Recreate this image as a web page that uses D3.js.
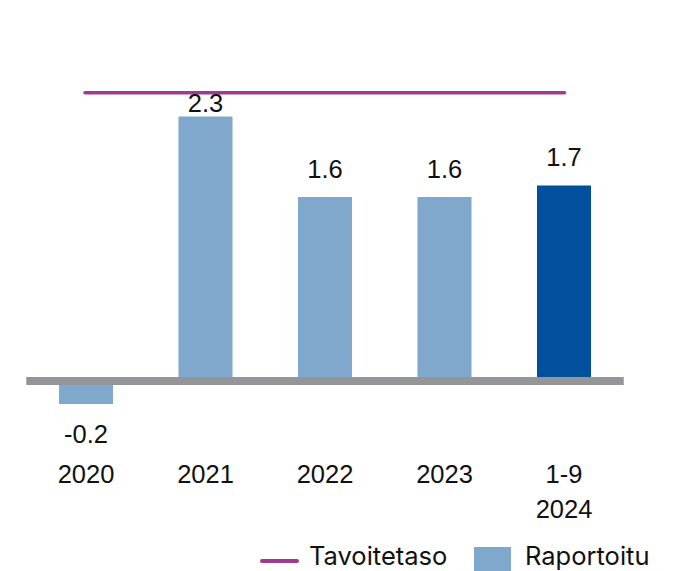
<!DOCTYPE html>
<html><head><meta charset="utf-8">
<script src="https://cdn.jsdelivr.net/npm/d3@7"></script>
<style>html,body{margin:0;padding:0;background:#fff;overflow:hidden}</style>
</head><body>
<svg id="chart" width="674" height="571"></svg>
<script>
const categories = ["2020", "2021", "2022", "2023", "1-9\n2024"];
const values = [-0.2, 2.3, 1.6, 1.6, 1.7];
const highlighted = [false, false, false, false, true];
const targetValue = 2.5;
const legendLabels = ["Tavoitetaso", "Raportoitu"];

const colLight = "#80a8cc", colDark = "#00509d", colTarget = "#9e3d8f", colAxis = "#949599";
const svg = d3.select("#chart");

const x = d3.scaleBand().domain(categories).range([26.25, 623.75]).paddingInner(0.548).paddingOuter(0.274);
const y = d3.scaleLinear().domain([0, targetValue]).range([381, 93.5]);
const bw = x.bandwidth();

// bars
svg.append("g").selectAll("rect").data(values).join("rect")
  .attr("x", (d, i) => x(categories[i]))
  .attr("y", d => y(Math.max(d, 0)))
  .attr("width", bw)
  .attr("height", d => Math.abs(y(d) - y(0)))
  .attr("fill", (d, i) => highlighted[i] ? colDark : colLight);

// zero axis line
svg.append("line").attr("x1", x.range()[0]).attr("x2", x.range()[1])
  .attr("y1", y(0)).attr("y2", y(0)).attr("stroke", colAxis).attr("stroke-width", 8);

// target line
svg.append("line")
  .attr("x1", x(categories[0]) + bw / 2 - 1).attr("x2", x(categories[categories.length - 1]) + bw / 2 + 0.5)
  .attr("y1", y(targetValue) - 0.8).attr("y2", y(targetValue) - 0.8)
  .attr("stroke", colTarget).attr("stroke-width", 3.5).attr("stroke-linecap", "round");

const labelFont = "'Liberation Sans', Arial, sans-serif";
// value labels
svg.append("g").selectAll("text").data(values).join("text")
  .attr("x", (d, i) => x(categories[i]) + bw / 2)
  .attr("y", d => d >= 0 ? Math.max(y(d) - 19.5, y(targetValue) + 18) : y(d) + 39)
  .attr("text-anchor", "middle").attr("font-family", labelFont).attr("font-size", 25.5)
  .attr("fill", "#111")
  .text(d => d.toFixed(1));

// category labels
const cat = svg.append("g").selectAll("text").data(categories).join("text")
  .attr("x", d => x(d) + bw / 2).attr("y", 483)
  .attr("text-anchor", "middle").attr("font-family", labelFont).attr("font-size", 25.5)
  .attr("fill", "#111");
cat.selectAll("tspan").data(d => d.split("\n")).join("tspan")
  .attr("x", function () { return d3.select(this.parentNode).attr("x"); })
  .attr("dy", (d, i) => i === 0 ? 0 : 35)
  .text(d => d);

// legend
const legFont = "Inter, 'Noto Sans', sans-serif";
const leg = svg.append("g");
leg.append("line").attr("x1", 262).attr("x2", 297).attr("y1", 561).attr("y2", 561)
  .attr("stroke", colTarget).attr("stroke-width", 4).attr("stroke-linecap", "round");
leg.append("text").attr("x", 309).attr("y", 565).attr("font-family", legFont).attr("font-size", 25.5)
  .attr("fill", "#111").text(legendLabels[0]);
leg.append("rect").attr("x", 474).attr("y", 547).attr("width", 37).attr("height", 37).attr("fill", colLight);
leg.append("text").attr("x", 525).attr("y", 565).attr("font-family", legFont).attr("font-size", 25.5)
  .attr("fill", "#111").text(legendLabels[1]);
</script>
</body></html>
